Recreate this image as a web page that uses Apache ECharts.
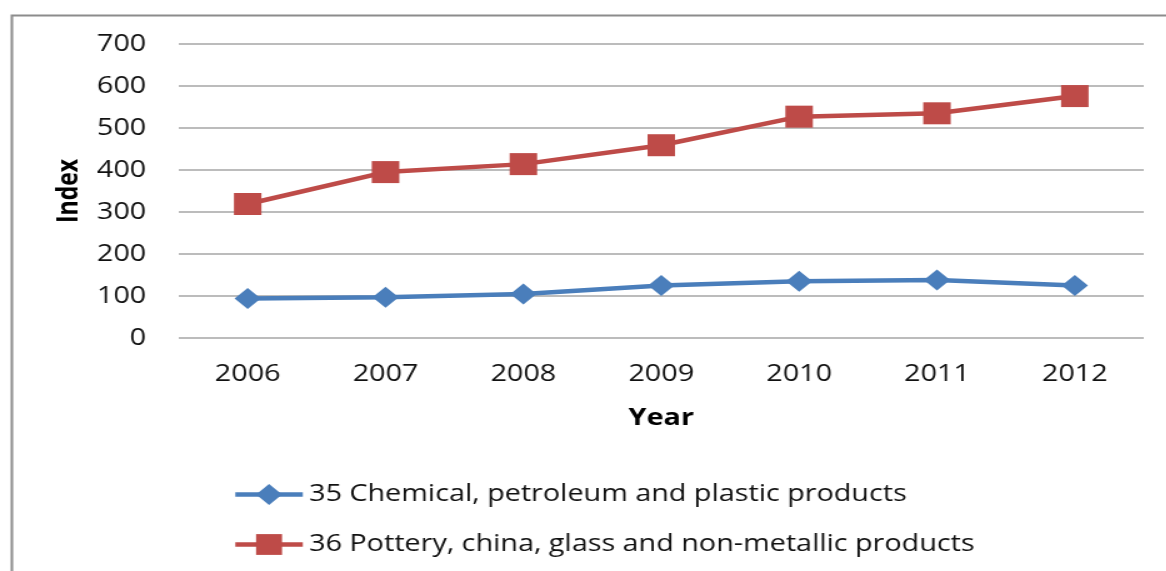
<!DOCTYPE html>
<html><head><meta charset="utf-8">
<script src="https://cdn.jsdelivr.net/npm/echarts@6/dist/echarts.min.js"></script>
<style>html,body{margin:0;padding:0;background:#fff;overflow:hidden}
#c{width:933px;height:571px;transform:scaleX(1.25);transform-origin:0 0}</style>
</head><body><div id="c"></div>
<script>
const years = ['2006','2007','2008','2009','2010','2011','2012'];
const chemical = [94, 97, 105, 125, 135, 138, 125];
const pottery = [319, 395, 414, 459, 527, 535, 576];
const seriesNames = ['35 Chemical, petroleum and plastic products', '36 Pottery, china, glass and non-metallic products'];
const yTicks = {min: 0, max: 700, interval: 100};

const FONT = 'Open Sans';
const chart = echarts.init(document.getElementById('c'));
chart.setOption({
  animation: false,
  backgroundColor: '#fff',
  textStyle: {fontFamily: FONT},
  graphic: [{type: 'rect', left: 7, top: 13, shape: {width: 1000, height: 600}, style: {fill: 'none', stroke: '#8c8c8c', lineWidth: 2}}],
  grid: {left: 143, right: 18, top: 44, height: 294, containLabel: false},
  xAxis: {
    type: 'category', data: years, boundaryGap: true,
    name: 'Year', nameLocation: 'middle', nameGap: 69,
    nameTextStyle: {fontSize: 23, fontWeight: 'bold', color: '#000', fontFamily: FONT},
    axisLine: {show: false}, axisTick: {show: false},
    axisLabel: {fontSize: 23, color: '#111', margin: 25, fontFamily: FONT}
  },
  yAxis: {
    type: 'value', min: yTicks.min, max: yTicks.max, interval: yTicks.interval,
    name: 'Index', nameLocation: 'middle', nameGap: 74, nameRotate: 90,
    nameTextStyle: {fontSize: 23, fontWeight: 'bold', color: '#000', fontFamily: FONT},
    axisLine: {show: false}, axisTick: {show: false},
    axisLabel: {fontSize: 23, color: '#111', margin: 26, fontFamily: FONT},
    splitLine: {lineStyle: {color: '#a6a6a6', width: 1.5}}
  },
  legend: {
    orient: 'vertical', left: 181, top: 478, itemGap: 27,
    itemWidth: 54, itemHeight: 26,
    lineStyle: {width: 4.5},
    textStyle: {fontSize: 23, color: '#111', fontFamily: FONT},
    data: seriesNames
  },
  series: [
    {name: seriesNames[0], type: 'line', data: chemical, symbol: 'diamond', symbolSize: 21,
     itemStyle: {color: '#4a7ebb'}, lineStyle: {width: 4.5, color: '#4a7ebb'}},
    {name: seriesNames[1], type: 'line', data: pottery, symbol: 'rect', symbolSize: 22,
     itemStyle: {color: '#be4b48'}, lineStyle: {width: 4.5, color: '#be4b48'}}
  ]
});
</script></body></html>
